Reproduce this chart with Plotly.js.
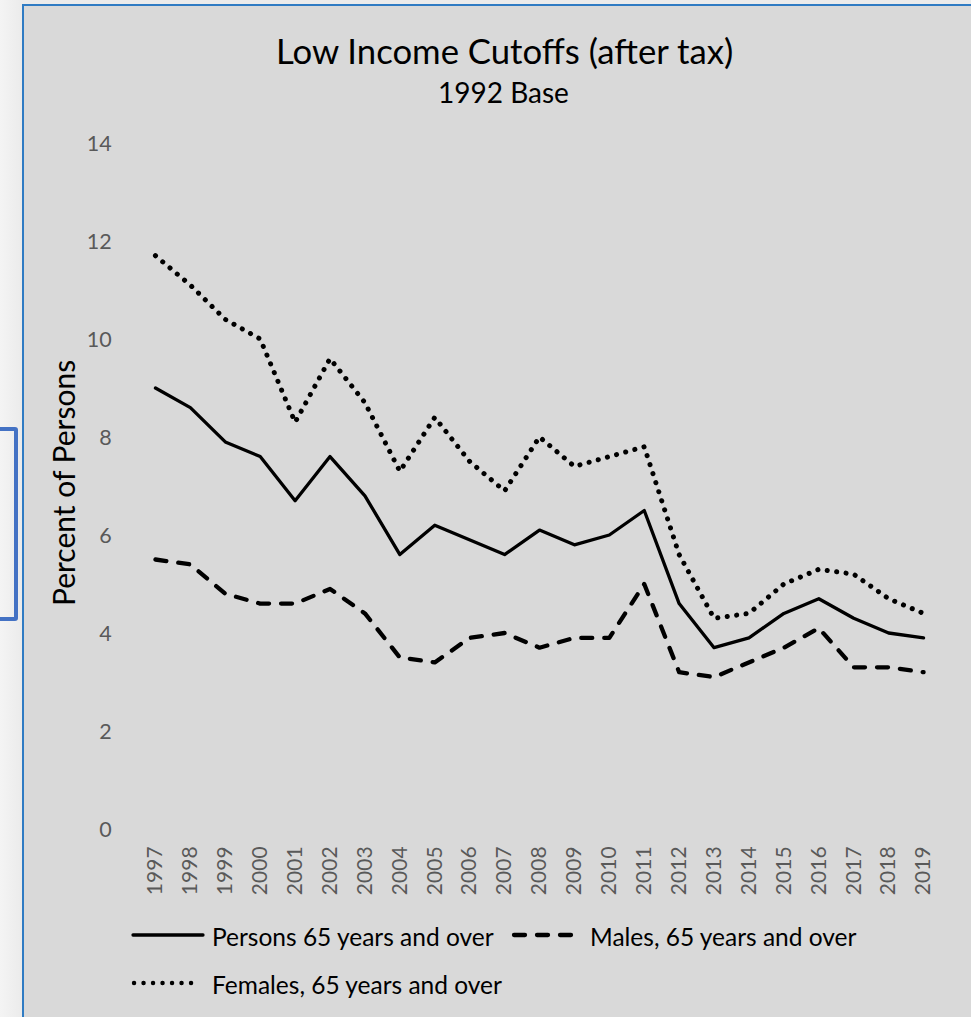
<!DOCTYPE html>
<html>
<head>
<meta charset="utf-8">
<script src="https://cdn.plot.ly/plotly-3.0.1.min.js"></script>
<style>
  html, body { margin: 0; padding: 0; width: 971px; height: 1017px; overflow: hidden; }
  body { background: linear-gradient(to right, #f4f4f4, #ebebeb 22px); position: relative; }
  #frame { position: absolute; left: 22px; top: 4px; width: 960px; height: 1030px;
           border-left: 2px solid #2f7bc3; border-top: 2px solid #2f7bc3; background: #d9d9d9; }
  #chart { position: absolute; left: 24px; top: 6px; width: 947px; height: 1011px; }
  #sel { position: absolute; left: -8px; top: 427px; width: 18px; height: 186px;
         border: 4px solid #4472c4; border-radius: 3px; }
  .scatterlayer .js-line { stroke-linecap: round; stroke-linejoin: round; }
  .shapelayer path { stroke-linecap: round; }
</style>
</head>
<body>
<div id="sel"></div>
<div id="frame"></div>
<div id="chart"></div>
<script>
// Low income cutoffs (after tax), 1992 base — percent of persons 65 and over
const years = ['1997','1998','1999','2000','2001','2002','2003','2004','2005','2006','2007','2008',
               '2009','2010','2011','2012','2013','2014','2015','2016','2017','2018','2019'];
const persons = [9.0, 8.6, 7.9, 7.6, 6.7, 7.6, 6.8, 5.6, 6.2, 5.9, 5.6, 6.1,
                 5.8, 6.0, 6.5, 4.6, 3.7, 3.9, 4.4, 4.7, 4.3, 4.0, 3.9];
const males   = [5.5, 5.4, 4.8, 4.6, 4.6, 4.9, 4.4, 3.5, 3.4, 3.9, 4.0, 3.7,
                 3.9, 3.9, 5.0, 3.2, 3.1, 3.4, 3.7, 4.1, 3.3, 3.3, 3.2];
const females = [11.7, 11.1, 10.4, 10.0, 8.3, 9.6, 8.7, 7.3, 8.4, 7.5, 6.9, 8.0,
                 7.4, 7.6, 7.8, 5.6, 4.3, 4.4, 5.0, 5.3, 5.2, 4.7, 4.4];
const seriesNames = ['Persons 65 years and over', 'Males, 65 years and over', 'Females, 65 years and over'];
const yTicks = [0, 2, 4, 6, 8, 10, 12, 14];

const FONT = 'Lato, "Open Sans", sans-serif';
const W = 947, H = 1011;
const M = {l: 114, r: 30, t: 137, b: 188};
const PW = W - M.l - M.r, PH = H - M.t - M.b;
// page pixel -> paper coordinates (chart div sits at 24,6)
const px = x => (x - 24 - M.l) / PW;
const py = y => 1 - (y - 6 - M.t) / PH;

const styles = [
  {color: '#000', width: 3.3, dash: 'solid'},
  {color: '#000', width: 4.3, dash: '11px,12px'},
  {color: '#000', width: 5.0, dash: '0.1px,9.4px'}
];
const values = [persons, males, females];

const traces = values.map((v, i) => ({
  type: 'scatter', mode: 'lines', x: years, y: v, name: seriesNames[i],
  line: {color: styles[i].color, width: styles[i].width, dash: styles[i].dash},
  hoverinfo: 'x+y+name', showlegend: false
}));

// legend rows drawn as key lines + labels
const legendItems = [
  {x0: 133, x1: 203, y: 935, tx: 210},
  {x0: 514, x1: 575, y: 935, tx: 588},
  {x0: 134, x1: 198, y: 983, tx: 210}
];
const shapes = legendItems.map((it, i) => ({
  type: 'line', xref: 'paper', yref: 'paper',
  x0: px(it.x0), x1: px(it.x1), y0: py(it.y), y1: py(it.y),
  line: {color: styles[i].color, width: i === 2 ? 4.4 : styles[i].width, dash: styles[i].dash}
}));
const annotations = legendItems.map((it, i) => ({
  xref: 'paper', yref: 'paper', x: px(it.tx), y: py(it.y + 1),
  xanchor: 'left', yanchor: 'middle', showarrow: false,
  text: seriesNames[i], font: {family: FONT, size: 24.5, color: '#000'}
}));
annotations.push(
  {xref: 'paper', yref: 'paper', x: px(504.5), y: py(50), xanchor: 'center', yanchor: 'middle',
   showarrow: false, text: 'Low Income Cutoffs (after tax)', font: {family: FONT, size: 34.7, color: '#000'}},
  {xref: 'paper', yref: 'paper', x: px(503), y: py(92), xanchor: 'center', yanchor: 'middle',
   showarrow: false, text: '1992 Base', font: {family: FONT, size: 28, color: '#000'}},
  {xref: 'paper', yref: 'paper', x: px(63), y: py(483), xanchor: 'center', yanchor: 'middle',
   textangle: -90, showarrow: false, text: 'Percent of Persons', font: {family: FONT, size: 30, color: '#000'}}
);

const layout = {
  width: W, height: H,
  margin: M,
  paper_bgcolor: '#d9d9d9', plot_bgcolor: '#d9d9d9',
  font: {family: FONT},
  showlegend: false,
  xaxis: {
    type: 'category', range: [-0.5, years.length - 0.5], fixedrange: true,
    showgrid: false, zeroline: false, showline: false,
    ticks: 'outside', ticklen: 8, tickcolor: 'rgba(0,0,0,0)', tickangle: -90,
    tickfont: {family: FONT, size: 21, color: '#595959'}
  },
  yaxis: {
    range: [0, 14], tickvals: yTicks, fixedrange: true,
    showgrid: false, zeroline: false, showline: false,
    ticks: 'outside', ticklen: 21, tickcolor: 'rgba(0,0,0,0)',
    tickfont: {family: FONT, size: 21.5, color: '#595959'}
  },
  shapes: shapes,
  annotations: annotations
};

Plotly.newPlot('chart', traces, layout, {displayModeBar: false, staticPlot: true});
</script>
</body>
</html>
